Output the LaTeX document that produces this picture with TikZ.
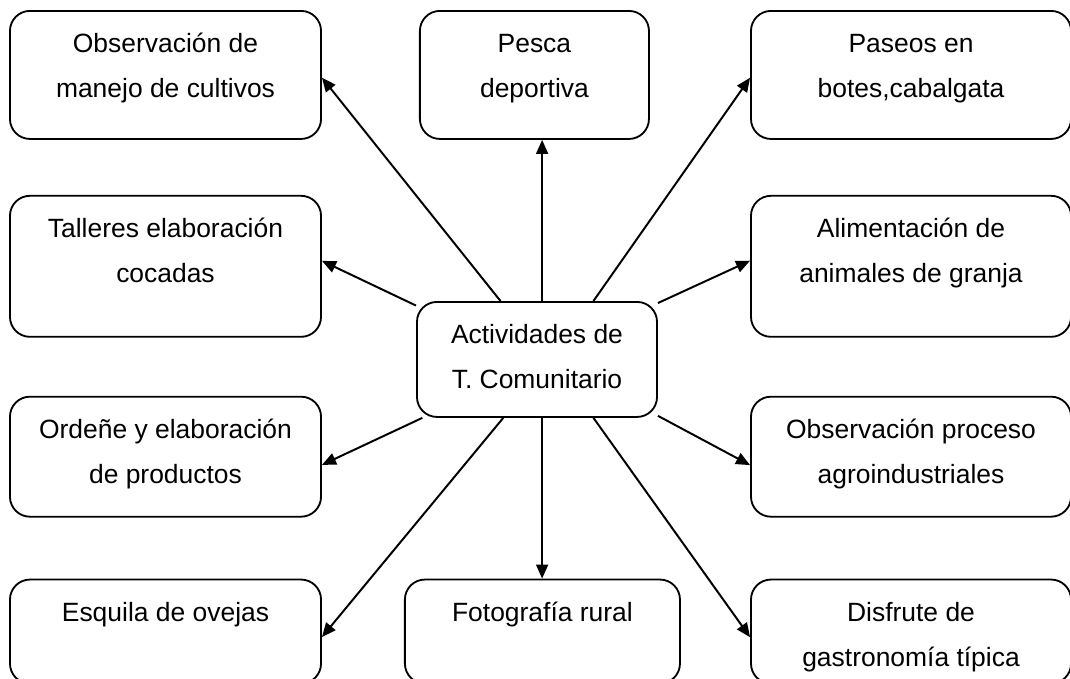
\documentclass[tikz,border=0pt]{standalone}
\usepackage{fontspec}
\setmainfont{Liberation Sans}
\usetikzlibrary{arrows.meta,positioning}

\begin{document}
\begin{tikzpicture}[
  x=0.025cm,y=-0.025cm,
  card/.style={draw,line width=1.3pt,rounded corners=0.5cm,align=center,inner sep=0pt,
    text height=2.175cm,font=\fontsize{18.8pt}{32pt}\selectfont},
  single/.style={text height=1.05cm},
  side/.style={card,minimum width=7.775cm},
  far/.style={card,minimum width=8cm},
  flow/.style={-{Stealth[inset=0pt,length=10pt,width=8.5pt]},line width=1.4pt}]
\useasboundingbox (0,0) rectangle (1070,678);
\node[side,anchor=north,text depth=1.025cm] (cult) at (165.5,10) {Observación de\\manejo de cultivos};
\node[side,text depth=1.35cm,below=1.375cm of cult] (taller) {Talleres elaboración\\cocadas};
\node[side,text depth=0.825cm,below=1.45cm of taller] (ordene) {Ordeñe y elaboración\\de productos};
\node[side,single,text depth=1.55cm,below=1.525cm of ordene] (esquila) {Esquila de ovejas};
\node[card,minimum width=5.725cm,text depth=1.025cm,right=2.425cm of cult] (pesca) {Pesca\\deportiva};
\node[card,single,minimum width=6.875cm,text depth=1.55cm,right=2.05cm of esquila] (foto) {Fotografía rural};
\node[far,text depth=1.025cm,right=10.7cm of cult] (paseo) {Paseos en\\botes,cabalgata};
\node[far,text depth=1.35cm,right=10.7cm of taller] (alim) {Alimentación de\\animales de granja};
\node[far,text depth=0.825cm,right=10.7cm of ordene] (proc) {Observación proceso\\agroindustriales};
\node[far,text depth=0.425cm,right=10.7cm of esquila] (gastro) {Disfrute de\\gastronomía típica};
\node[card,anchor=north,minimum width=6cm,text depth=0.7cm] (hub) at (537,301) {Actividades de\\T. Comunitario};
\foreach \a/\b in {122/cult.-1,85.03/hub.85.03 |- pesca.south,46.3/paseo.181,156.4/taller.2,25.6/alim.178,
  -153.8/ordene.-3.7,-120.9/esquila.-2.6,-85.03/hub.-85.03 |- foto.north,-46.8/gastro.182.5,-25.8/proc.183.2}
  \draw[flow] (hub.\a)--(\b);
\end{tikzpicture}
\end{document}
